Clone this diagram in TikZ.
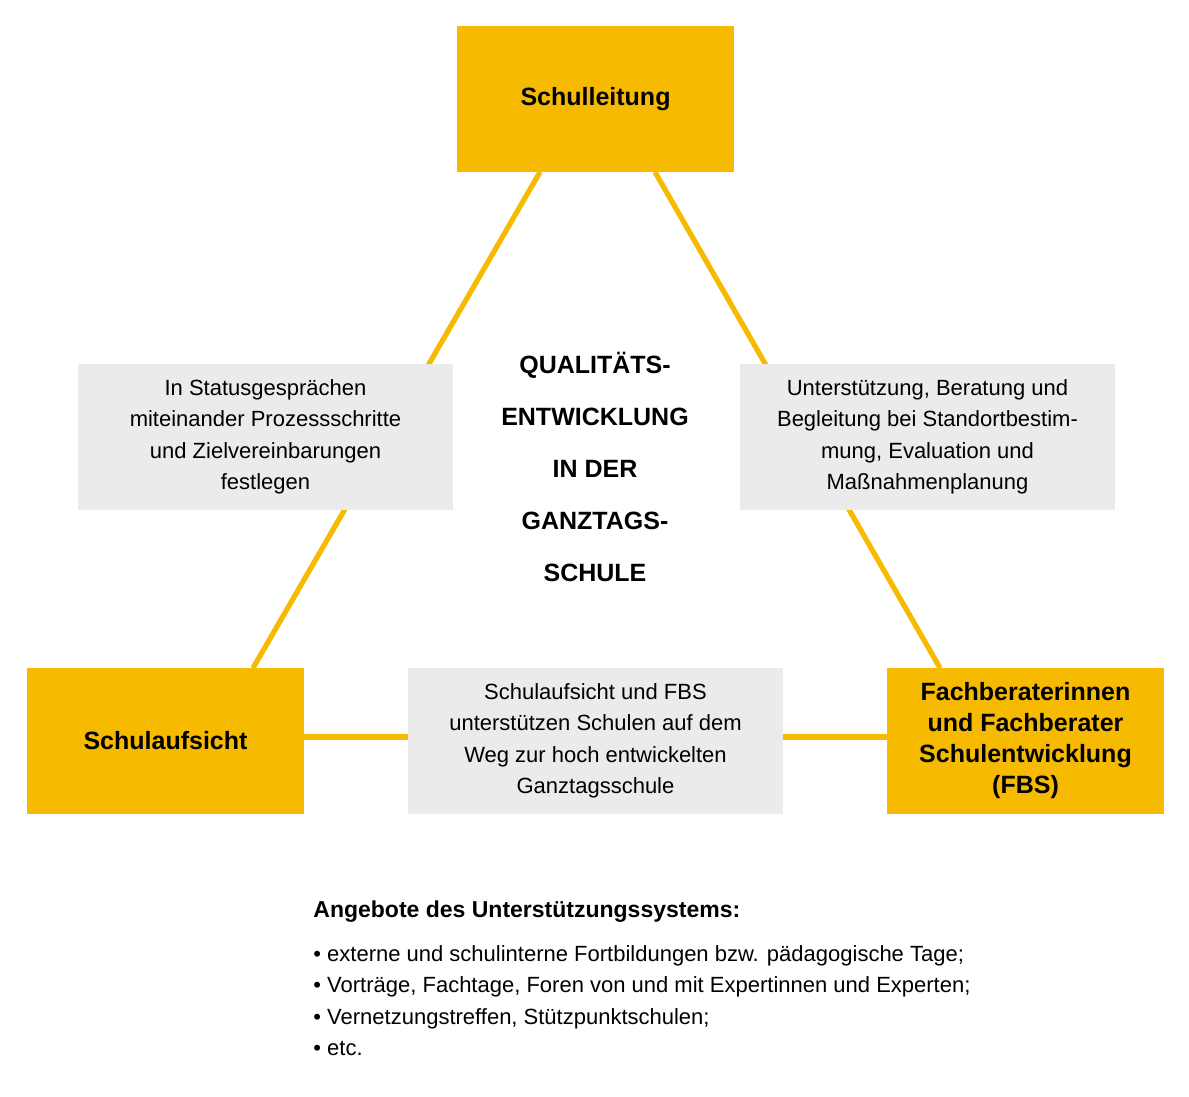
\documentclass[tikz,border=0pt]{standalone}
\usepackage{fontspec}
\setmainfont{Liberation Sans}
\definecolor{gold}{HTML}{F6BA00}
\definecolor{lgrey}{HTML}{EBEBEB}
\begin{document}
\begin{tikzpicture}[x=0.5pt,y=-0.5pt,
  ybox/.style={fill=gold,draw=none,minimum width=138.5pt,minimum height=73pt,inner sep=0pt,align=center,font=\fontsize{12.5}{15.5}\selectfont\bfseries},
  gbox/.style={fill=lgrey,draw=none,minimum width=187.5pt,minimum height=73pt,inner sep=0pt,align=center,font=\fontsize{11}{15.7}\selectfont},
  conn/.style={gold,line width=2.6pt}]
\useasboundingbox (0,0) rectangle (1189,1097);
\coordinate (t1) at (540,172); \coordinate (b1) at (253,668);
\coordinate (t2) at (655,172); \coordinate (b2) at (940,668);
\coordinate (h1) at (304,737); \coordinate (h2) at (887,737);
\draw[conn] (t1) -- (b1);
\draw[conn] (t2) -- (b2);
\draw[conn] (h1) -- (h2);
\node[ybox] (sl) at (595.5,99) {Schulleitung};
\node[ybox] (sa) at (165.5,741) {Schulaufsicht};
\node[ybox] (fbs) at (1025.5,741) {Fachberaterinnen\\und Fachberater\\Schulentwicklung\\(FBS)};
\node[gbox] (gl) at (265.5,437) {In Statusgesprächen\\miteinander Prozessschritte\\und Zielvereinbarungen\\festlegen};
\node[gbox] (gr) at (927.5,437) {Unterstützung, Beratung und\\Begleitung bei Standortbestim-\\mung, Evaluation und\\Maßnahmenplanung};
\node[gbox] (gb) at (595.5,741) {Schulaufsicht und FBS\\unterstützen Schulen auf dem\\Weg zur hoch entwickelten\\Ganztagsschule};
\node[align=center,font=\fontsize{12.5}{26}\selectfont\bfseries] (ctr) at (595,467) {QUALITÄTS-\\ENTWICKLUNG\\IN DER\\GANZTAGS-\\SCHULE};
\node[anchor=west,font=\fontsize{11.5}{14}\selectfont\bfseries,inner sep=0pt] (hd) at (313,912) {Angebote des Unterstützungssystems:};
\node[anchor=north west,align=left,font=\fontsize{11}{15.7}\selectfont,inner sep=0pt] (list) at (313,945) {• externe und schulinterne Fortbildungen bzw. pädagogische Tage;\\• Vorträge, Fachtage, Foren von und mit Expertinnen und Experten;\\• Vernetzungstreffen, Stützpunktschulen;\\• etc.};
\end{tikzpicture}
\end{document}
